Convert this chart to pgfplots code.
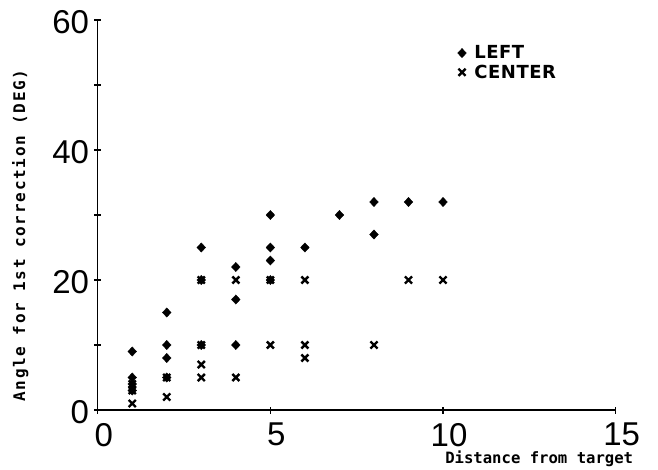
\documentclass[border=0pt]{standalone}
\usepackage{fontspec}
\usepackage{pgfplots}
\pgfplotsset{compat=1.18}
\newfontfamily\tickfont{Liberation Sans}
\newfontfamily\labfont{DejaVu Sans Mono}
\newfontfamily\ylabfont[LetterSpace=10.8]{DejaVu Sans Mono}
\newfontfamily\legfont[LetterSpace=3]{DejaVu Sans}

\begin{document}
\begin{tikzpicture}
\path[use as bounding box] (-97.7pt,-59pt) rectangle (560.3pt,410pt);
\begin{axis}[
  scale only axis, width=518pt, height=390pt,
  xmin=0, xmax=15, ymin=0, ymax=60,
  axis x line=bottom, axis y line=left,
  axis line style={-, line width=1.6pt},
  xtick={0,5,10,15}, ytick={0,20,40,60}, minor ytick={10,30,50},
  tick align=center, major tick length=7pt, minor tick length=7pt,
  tick style={black, line width=1.3pt},
  minor tick style={black, line width=1.3pt},
  clip=false,
  /pgf/number format/assume math mode=true,
  ticklabel style={font=\tickfont\fontsize{33}{33}\selectfont, inner sep=0pt},
  xticklabel style={anchor=north, xshift=6pt, yshift=-9.5pt},
  yticklabel style={anchor=east, xshift=-5pt, yshift=-2pt},
  xlabel={Distance from target},
  xlabel style={font=\labfont\bfseries\fontsize{15.6}{16}\selectfont,
    at={(axis description cs:1.034,-0.136)}, anchor=base east, inner sep=0pt},
  ylabel={Angle for 1st correction (DEG)},
  ylabel style={font=\ylabfont\bfseries\fontsize{16}{16}\selectfont,
    at={(axis description cs:-0.1403,0.021)}, anchor=base west, inner sep=0pt},
  legend style={at={(axis description cs:0.6946,0.9345)}, anchor=north west,
    draw=none, fill=none, font=\legfont\bfseries\fontsize{18}{18}\selectfont,
    row sep=4.5pt, column sep=8pt, inner sep=0pt, nodes={inner sep=0pt}},
  legend cell align=left,
  legend image code/.code={\draw[#1] plot coordinates {(0pt,0pt)};},
]
% LEFT
\addplot[only marks, draw=black, fill=black, mark=diamond*, mark size=4.6pt,
  mark options={xscale=1.25, draw=black, fill=black}] coordinates {
  (1,9) (1,5) (1,4) (1,3)
  (2,15) (2,10) (2,8) (2,5)
  (3,25) (3,20) (3,10)
  (4,22) (4,17) (4,10)
  (5,30) (5,25) (5,23) (5,20)
  (6,25) (7,30) (8,32) (8,27) (9,32) (10,32)
};
\addlegendentry{LEFT}
% CENTER
\addplot[only marks, draw=black, mark=x, mark size=5pt,
  mark options={line width=2.4pt, draw=black}] coordinates {
  (1,4) (1,3) (1,1)
  (2,5) (2,2)
  (3,20) (3,10) (3,7) (3,5)
  (4,20) (4,5)
  (5,20) (5,10)
  (6,20) (6,10) (6,8)
  (8,10) (9,20) (10,20)
};
\addlegendentry{CENTER}
\end{axis}
\end{tikzpicture}
\end{document}
